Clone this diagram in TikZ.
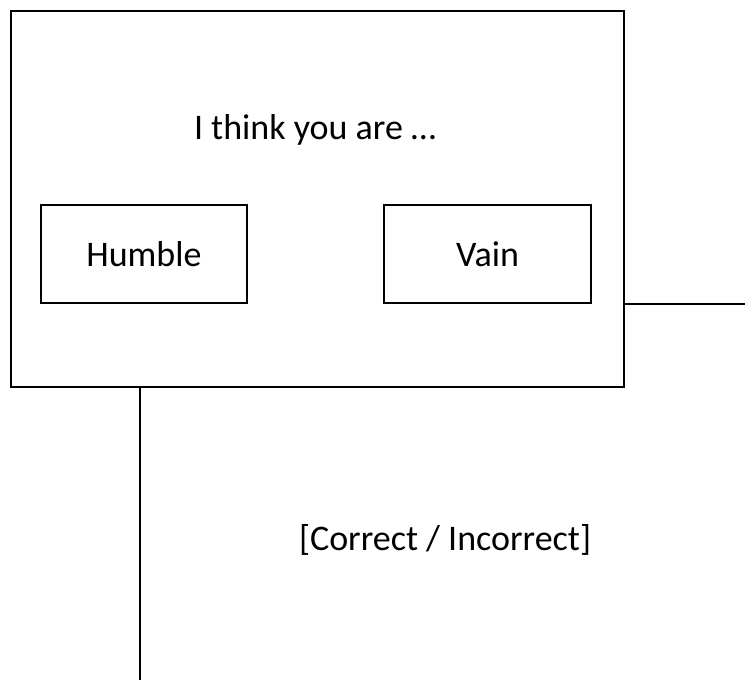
\documentclass[tikz,border=0pt]{standalone}
\usepackage{fontspec}
\setmainfont{Carlito}
\begin{document}
\begin{tikzpicture}[x=1pt,y=-1pt,
  box/.style={draw=black,line width=2pt,fill=white,inner sep=0pt,anchor=north west},
  lbl/.style={font=\fontsize{36}{43}\selectfont,inner sep=0pt}]
\useasboundingbox (0,0) rectangle (745,680);
\clip (0,0) rectangle (745,680);
% back rectangle (extends past the picture)
\node[box,minimum width=700pt,minimum height=378pt] (back) at (139,303) {};
\node[lbl] (res) at (445,540) {[Correct / Incorrect]};
% front box
\node[box,minimum width=613pt,minimum height=376pt] (front) at (10,10) {};
\node[lbl] (q) at (315,130) {I think you are …};
\node[box,minimum width=206pt,minimum height=98pt] (humble) at (40,204) {};
\node[lbl] at (humble.center) {Humble};
\node[box,minimum width=207pt,minimum height=98pt] (vain) at (383,204) {};
\node[lbl] at (vain.center) {Vain};
\end{tikzpicture}
\end{document}
